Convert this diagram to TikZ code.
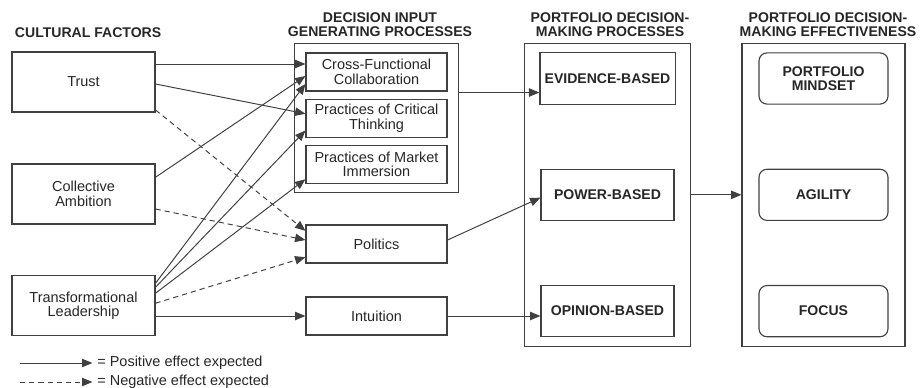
\documentclass[tikz,border=0pt]{standalone}
\usepackage{fontspec}
\setmainfont{Liberation Sans}
\usetikzlibrary{arrows.meta,positioning,fit}

\begin{document}
\begin{tikzpicture}[
    every node/.style={align=center, text=black!85, font=\fontsize{10.3}{10.3}\selectfont},
    factor/.style={draw=black!75, line width=0.8pt, minimum width=3.575cm, minimum height=1.5cm},
    inbox/.style={draw=black!75, line width=0.8pt, minimum width=3.525cm, minimum height=0.95cm},
    procbox/.style={draw=black!75, line width=0.8pt, minimum width=3.325cm, minimum height=1.28cm, font=\fontsize{10}{10}\selectfont\bfseries},
    effbox/.style={procbox, rounded corners=0.2cm, minimum width=3.225cm},
    group/.style={draw=black!75, line width=0.8pt, inner xsep=0.35cm, inner ysep=0.22cm},
    heading/.style={font=\fontsize{10}{10}\selectfont\bfseries},
    link/.style={->, draw=black!75, line width=0.7pt},
    neglink/.style={link, dash pattern=on 1.3mm off 1mm},
    >={Triangle[length=2.6mm, width=2.1mm]}
  ]
    \useasboundingbox (0,0) rectangle (23,-9.7);

    % headings
    \node[heading, anchor=west] (cultural) at (0.25,-0.81) {CULTURAL FACTORS};
    \node[heading] (inhead) at (9.5,-0.625) {DECISION INPUT\\GENERATING PROCESSES};
    \node[heading] (prochead) at (15.25,-0.625) {PORTFOLIO DECISION-\\MAKING PROCESSES};
    \node[heading] (effhead) at (20.7,-0.625) {PORTFOLIO DECISION-\\MAKING EFFECTIVENESS};

    % cultural factors
    \node[factor] (trust) at (2.0875,-2.05) {Trust};
    \node[factor] (ambition) at (2.0875,-4.85) {Collective\\Ambition};
    \node[factor] (leader) at (2.0875,-7.64) {Transformational\\Leadership};

    % decision input generating processes
    \node[inbox] (cf) at (9.4125,-1.8) {Cross-Functional\\Collaboration};
    \node[inbox, below=0.175cm of cf] (crit) {Practices of Critical\\Thinking};
    \node[inbox, below=0.175cm of crit] (market) {Practices of Market\\Immersion};
    \node[group, inner xsep=0.275cm, inner ysep=0.225cm, fit=(cf)(market)] (mid) {};
    \node[inbox] (politics) at (9.4125,-6.1) {Politics};
    \node[inbox] (intu) at (9.4125,-7.9) {Intuition};

    % decision-making processes
    \node[procbox] (evid) at (15.1875,-1.9625) {EVIDENCE-BASED};
    \node[procbox, below=1.6cm of evid] (power) {POWER-BASED};
    \node[procbox, below=1.6cm of power] (opin) {OPINION-BASED};
    \node[group, inner xsep=0.37cm, fit=(evid)(opin)] (col3) {};

    % effectiveness
    \node[effbox] (mind) at (20.5875,-1.9625) {PORTFOLIO\\MINDSET};
    \node[effbox, below=1.6cm of mind] (agil) {AGILITY};
    \node[effbox, below=1.6cm of agil] (focus) {FOCUS};
    \node[group, inner xsep=0.41cm, fit=(mind)(focus)] (col4) {};

    % effects
    \draw[link] ([yshift=0.45cm]trust.east) -- ([yshift=0.2cm]cf.west);
    \draw[link] ([yshift=-0.05cm]trust.east) -- ([yshift=0.11cm]crit.west);
    \draw[neglink] ([yshift=-0.7cm]trust.east) -- ([yshift=0.33cm]politics.west);
    \draw[link] ([yshift=0.42cm]ambition.east) -- ([yshift=-0.1cm]cf.west);
    \draw[neglink] ([yshift=-0.375cm]ambition.east) -- ([yshift=0.1cm]politics.west);
    \draw[link] ([yshift=0.56cm]leader.east) -- ([yshift=-0.3cm]cf.west);
    \draw[link] ([yshift=0.46cm]leader.east) -- ([yshift=-0.31cm]crit.west);
    \draw[link] ([yshift=0.31cm]leader.east) -- ([yshift=-0.375cm]market.west);
    \draw[neglink] ([yshift=0.06cm]leader.east) -- ([yshift=-0.33cm]politics.west);
    \draw[link] (leader.east |- intu.west) -- (intu.west);

    \draw[link] ([yshift=0.64cm]mid.east) -- ([yshift=0.64cm]mid.east -| evid.west);
    \draw[link] ([yshift=0.1cm]politics.east) -- ([yshift=-0.07cm]power.west);
    \draw[link] (intu.east) -- (intu.east -| opin.west);
    \draw[link] (col3.east) -- (col4.west);

    % legend
    \coordinate (posa) at (0.5,-9.075);
    \node[anchor=west] (postxt) at (2.31,-9.075) {= Positive effect expected};
    \draw[link] (posa) -- (postxt.west);
    \coordinate (nega) at (0.5,-9.55);
    \node[anchor=west] (negtxt) at (2.31,-9.55) {= Negative effect expected};
    \draw[neglink] (nega) -- (negtxt.west);
  \end{tikzpicture}
\end{document}
